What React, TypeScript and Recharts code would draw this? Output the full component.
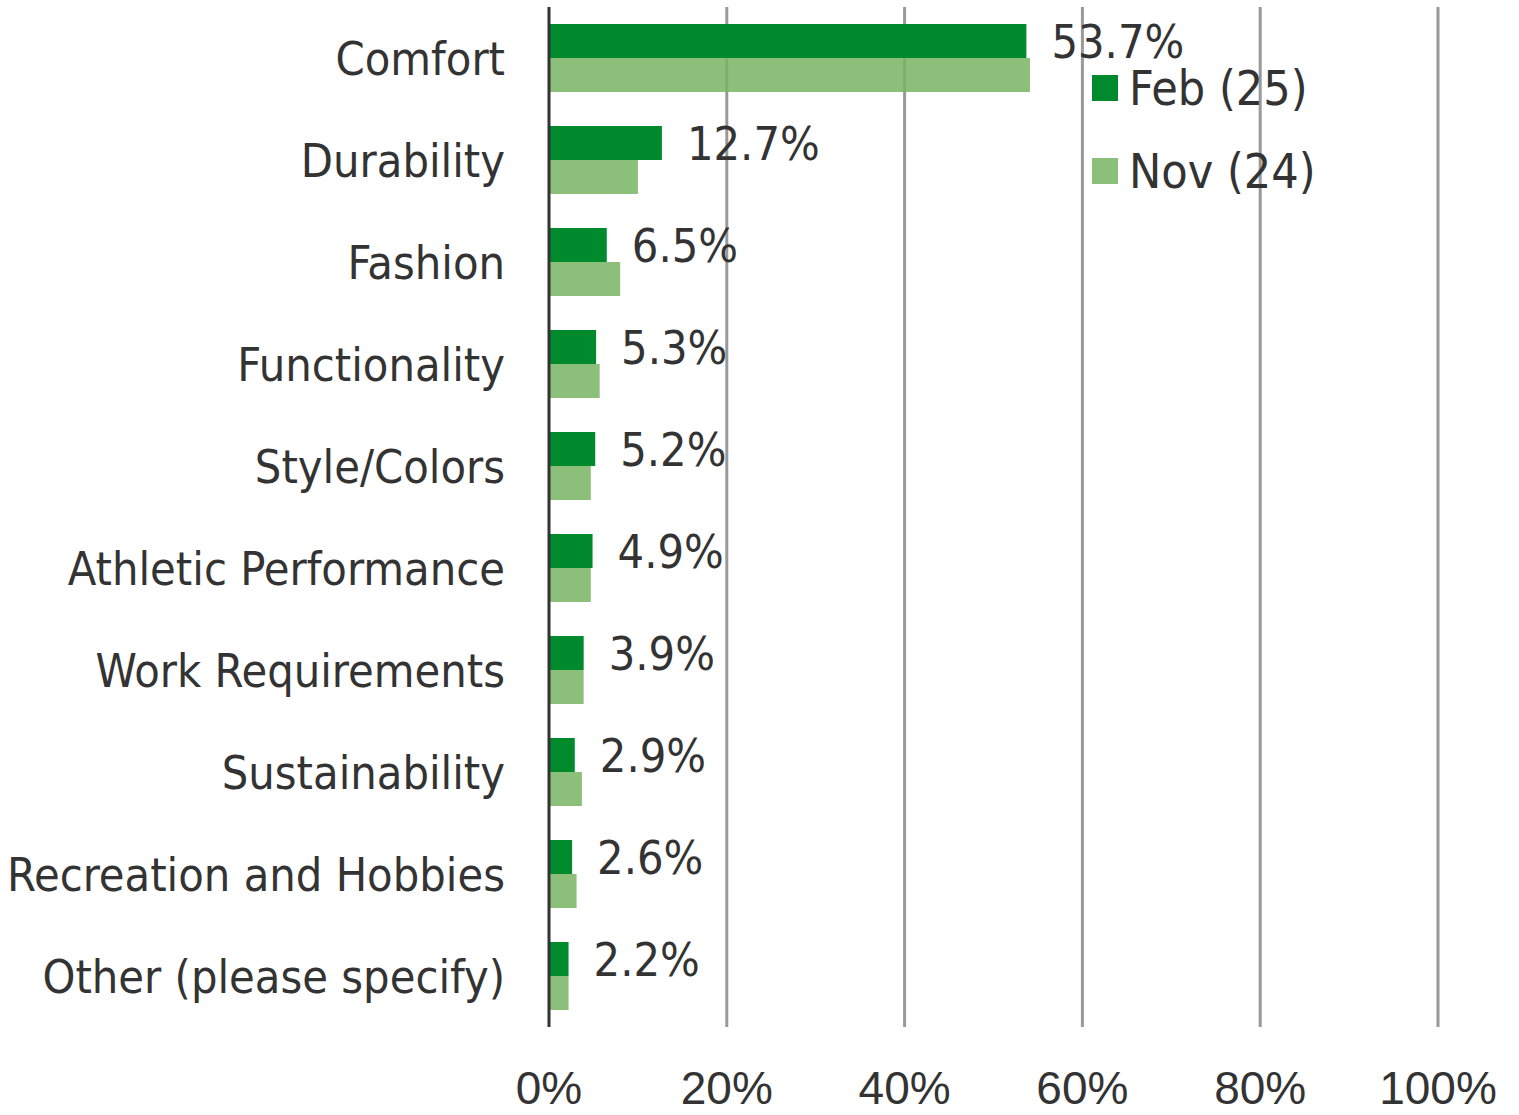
import { BarChart, Bar, XAxis, YAxis, CartesianGrid, LabelList } from "recharts"

const categories = [
  "Comfort",
  "Durability",
  "Fashion",
  "Functionality",
  "Style/Colors",
  "Athletic Performance",
  "Work Requirements",
  "Sustainability",
  "Recreation and Hobbies",
  "Other (please specify)",
]

const feb25 = [53.7, 12.7, 6.5, 5.3, 5.2, 4.9, 3.9, 2.9, 2.6, 2.2]
const nov24 = [54.1, 10.0, 8.0, 5.7, 4.7, 4.7, 3.9, 3.7, 3.1, 2.2]

const xTicks = [0, 20, 40, 60, 80, 100]

const series = [
  { key: "feb", name: "Feb (25)", color: "#008A2E", swatch: "#008A2E", opacity: 1 },
  { key: "nov", name: "Nov (24)", color: "#78B461", swatch: "#8CBF79", opacity: 0.85 },
]

const data = categories.map((name, i) => ({ name, feb: feb25[i], nov: nov24[i] }))

const labelFont = "'DejaVu Sans Condensed', 'DejaVu Sans', sans-serif"
const axisFont = "'Liberation Sans', Arial, sans-serif"
const textColor = "#333333"

function CategoryTick(props: any) {
  const { x, y, payload } = props
  return (
    <text x={x - 44} y={y} dy={17} textAnchor="end" fontSize={46.5} fontFamily={labelFont} fill={textColor}>
      {payload.value}
    </text>
  )
}

function PercentTick(props: any) {
  const { x, y, payload } = props
  return (
    <text x={x} y={y} dy={77} textAnchor="middle" fontSize={46} fontFamily={axisFont} fill={textColor}>
      {payload.value}%
    </text>
  )
}

export default function App() {
  return (
    <div style={{ position: "absolute", left: 0, top: 0, width: 1519, height: 1115, background: "#fff" }}>
      <BarChart
        width={1519}
        height={1115}
        data={data}
        layout="vertical"
        margin={{ top: 7, right: 81, bottom: 0, left: 0 }}
        barCategoryGap={17}
        barGap={0}
      >
        <CartesianGrid horizontal={false} stroke="#999999" strokeWidth={3} verticalValues={[20, 40, 60, 80, 100]} />
        <XAxis
          type="number"
          domain={[0, 100]}
          ticks={xTicks}
          height={88}
          axisLine={false}
          tickLine={false}
          tickSize={0}
          tickMargin={0}
          tick={<PercentTick />}
          interval={0}
        />
        <YAxis
          type="category"
          dataKey="name"
          width={549}
          axisLine={{ stroke: "#333333", strokeWidth: 3 }}
          tickLine={false}
          tickSize={0}
          tickMargin={0}
          tick={<CategoryTick />}
          interval={0}
        />
        <Bar dataKey="feb" name={series[0].name} fill={series[0].color} isAnimationActive={false}>
          <LabelList
            dataKey="feb"
            position="right"
            offset={25}
            formatter={(v: any) => `${Number(v).toFixed(1)}%`}
            fontSize={46.5}
            fontFamily={labelFont}
            fill={textColor}
          />
        </Bar>
        <Bar
          dataKey="nov"
          name={series[1].name}
          fill={series[1].color}
          fillOpacity={series[1].opacity}
          isAnimationActive={false}
        />
      </BarChart>

      <div style={{ position: "absolute", left: 1092, top: 46 }}>
        {series.map((s) => (
          <div key={s.key} style={{ display: "flex", alignItems: "center", height: 83 }}>
            <div style={{ width: 26, height: 26, backgroundColor: s.swatch }} />
            <div style={{ marginLeft: 11, fontSize: 48, fontFamily: labelFont, color: textColor, lineHeight: "48px" }}>
              {s.name}
            </div>
          </div>
        ))}
      </div>
    </div>
  )
}
